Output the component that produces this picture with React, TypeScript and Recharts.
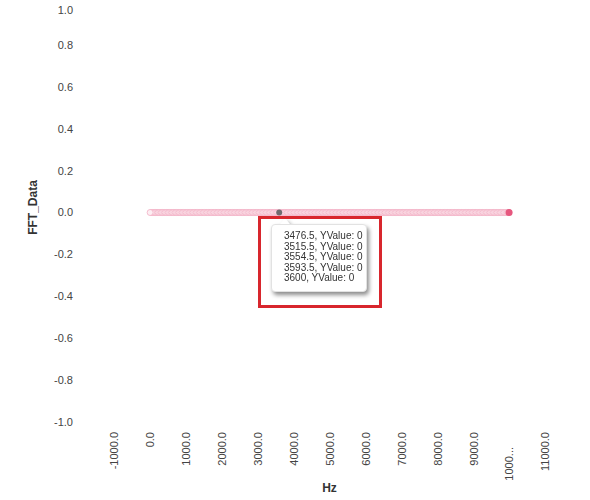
import { ScatterChart, Scatter, XAxis, YAxis } from "recharts";

// FFT bins (Hz); every bin reads 0 in the tooltip
const HZ = [
  5.5, 44.5, 83.5, 122.5, 161.5, 200.5, 239.5, 278.5, 317.5, 356.5,
  395.5, 434.5, 473.5, 512.5, 551.5, 590.5, 629.5, 668.5, 707.5, 746.5,
  785.5, 824.5, 863.5, 902.5, 941.5, 980.5, 1019.5, 1058.5, 1097.5, 1136.5,
  1175.5, 1214.5, 1253.5, 1292.5, 1331.5, 1370.5, 1409.5, 1448.5, 1487.5, 1526.5,
  1565.5, 1604.5, 1643.5, 1682.5, 1721.5, 1760.5, 1799.5, 1838.5, 1877.5, 1916.5,
  1955.5, 1994.5, 2033.5, 2072.5, 2111.5, 2150.5, 2189.5, 2228.5, 2267.5, 2306.5,
  2345.5, 2384.5, 2423.5, 2462.5, 2501.5, 2540.5, 2579.5, 2618.5, 2657.5, 2696.5,
  2735.5, 2774.5, 2813.5, 2852.5, 2891.5, 2930.5, 2969.5, 3008.5, 3047.5, 3086.5,
  3125.5, 3164.5, 3203.5, 3242.5, 3281.5, 3320.5, 3359.5, 3398.5, 3437.5, 3476.5,
  3515.5, 3554.5, 3593.5, 3600, 3632.5, 3671.5, 3710.5, 3749.5, 3788.5, 3827.5, 3866.5,
  3905.5, 3944.5, 3983.5, 4022.5, 4061.5, 4100.5, 4139.5, 4178.5, 4217.5, 4256.5,
  4295.5, 4334.5, 4373.5, 4412.5, 4451.5, 4490.5, 4529.5, 4568.5, 4607.5, 4646.5,
  4685.5, 4724.5, 4763.5, 4802.5, 4841.5, 4880.5, 4919.5, 4958.5, 4997.5, 5036.5,
  5075.5, 5114.5, 5153.5, 5192.5, 5231.5, 5270.5, 5309.5, 5348.5, 5387.5, 5426.5,
  5465.5, 5504.5, 5543.5, 5582.5, 5621.5, 5660.5, 5699.5, 5738.5, 5777.5, 5816.5,
  5855.5, 5894.5, 5933.5, 5972.5, 6011.5, 6050.5, 6089.5, 6128.5, 6167.5, 6206.5,
  6245.5, 6284.5, 6323.5, 6362.5, 6401.5, 6440.5, 6479.5, 6518.5, 6557.5, 6596.5,
  6635.5, 6674.5, 6713.5, 6752.5, 6791.5, 6830.5, 6869.5, 6908.5, 6947.5, 6986.5,
  7025.5, 7064.5, 7103.5, 7142.5, 7181.5, 7220.5, 7259.5, 7298.5, 7337.5, 7376.5,
  7415.5, 7454.5, 7493.5, 7532.5, 7571.5, 7610.5, 7649.5, 7688.5, 7727.5, 7766.5,
  7805.5, 7844.5, 7883.5, 7922.5, 7961.5, 8000.5, 8039.5, 8078.5, 8117.5, 8156.5,
  8195.5, 8234.5, 8273.5, 8312.5, 8351.5, 8390.5, 8429.5, 8468.5, 8507.5, 8546.5,
  8585.5, 8624.5, 8663.5, 8702.5, 8741.5, 8780.5, 8819.5, 8858.5, 8897.5, 8936.5,
  8975.5, 9014.5, 9053.5, 9092.5, 9131.5, 9170.5, 9209.5, 9248.5, 9287.5, 9326.5,
  9365.5, 9404.5, 9443.5, 9482.5, 9521.5, 9560.5, 9599.5, 9638.5, 9677.5, 9716.5,
  9755.5, 9794.5, 9833.5, 9872.5, 9911.5, 9950.5, 9989.5, 10000,
];
const FFT_VALUE = 0;
const HOVER_HZ = 3600;
const LAST_HZ = 10000;

const X_TICKS = [-1000, 0, 1000, 2000, 3000, 4000, 5000, 6000, 7000, 8000, 9000, 10000, 11000];
const CUT_TICK = 10000; // drawn as "1000..." in the reference
const Y_TICKS = [-1, -0.8, -0.6, -0.4, -0.2, 0, 0.2, 0.4, 0.6, 0.8, 1];
const TOOLTIP_HZ = [3476.5, 3515.5, 3554.5, 3593.5, 3600];

const FONT = "'Liberation Sans', Arial, sans-serif";

const points = HZ.map((hz) => ({ hz, fft: FFT_VALUE }));
// drawn high-to-low so the right edge of each ring stays visible
const bins = points.filter((p) => p.hz !== LAST_HZ && p.hz !== HOVER_HZ).reverse();
const lastPoint = points.filter((p) => p.hz === LAST_HZ);
const hoverPoint = points.filter((p) => p.hz === HOVER_HZ);

// eslint-disable-next-line @typescript-eslint/no-explicit-any
function HzTick({ x, y, payload }: any) {
  const v = payload.value as number;
  const cut = v === CUT_TICK;
  const label = cut ? "1000..." : v.toFixed(1);
  const ty = cut ? y + 15 : y;
  return (
    <text
      x={x}
      y={ty}
      dy="0.4em"
      transform={`rotate(-90 ${x} ${ty})`}
      textAnchor="end"
      fontSize={11}
      fontFamily={FONT}
      fill="#444"
    >
      {label}
    </text>
  );
}

// eslint-disable-next-line @typescript-eslint/no-explicit-any
function FftTick({ x, y, payload }: any) {
  // top label is kept inside the chart, like the reference
  const ty = Math.max(y, 10);
  return (
    <text x={x} y={ty} dy="0.355em" textAnchor="end" fontSize={11} fontFamily={FONT} fill="#444">
      {(payload.value as number).toFixed(1)}
    </text>
  );
}

// eslint-disable-next-line @typescript-eslint/no-explicit-any
function YTitle({ viewBox }: any) {
  const cx = viewBox.x + 33;
  const cy = viewBox.y + viewBox.height / 2 - 5;
  return (
    <text
      transform={`translate(${cx},${cy}) rotate(-90)`}
      textAnchor="middle"
      dy="0.35em"
      fontSize={12}
      fontWeight="bold"
      fontFamily={FONT}
      fill="#333"
    >
      FFT_Data
    </text>
  );
}

// eslint-disable-next-line @typescript-eslint/no-explicit-any
const binDot = (p: any) => (
  <circle cx={p.cx} cy={p.cy} r={3} fill="#fdeef3" stroke="#f0a6bd" strokeWidth={0.7} />
);
// eslint-disable-next-line @typescript-eslint/no-explicit-any
const lastDot = (p: any) => <circle cx={p.cx} cy={p.cy} r={3.5} fill="#e6577e" />;
// eslint-disable-next-line @typescript-eslint/no-explicit-any
const hoverDot = (p: any) => <circle cx={p.cx} cy={p.cy} r={3} fill="#6f6a6f" />;

export default function App() {
  return (
    <div style={{ position: "absolute", left: 0, top: 0, width: 590, height: 500, background: "#fff", fontFamily: FONT }}>
      <ScatterChart width={590} height={500} margin={{ top: 3, right: 45, bottom: 0, left: 0 }}>
        <XAxis
          type="number"
          dataKey="hz"
          domain={[-1000, 11000]}
          ticks={X_TICKS}
          interval={0}
          tick={<HzTick />}
          tickLine={false}
          axisLine={false}
          tickSize={0}
          tickMargin={10}
          height={78}
          label={{ value: "Hz", position: "insideBottom", offset: 8, fontSize: 12, fontWeight: "bold", fill: "#333", fontFamily: FONT }}
        />
        <YAxis
          type="number"
          dataKey="fft"
          domain={[-1, 1]}
          ticks={Y_TICKS}
          interval={0}
          tick={<FftTick />}
          tickLine={false}
          axisLine={false}
          tickSize={0}
          tickMargin={41}
          width={114}
          label={<YTitle />}
        />
        <Scatter data={bins} shape={binDot} isAnimationActive={false} />
        <Scatter data={lastPoint} shape={lastDot} isAnimationActive={false} />
        <Scatter data={hoverPoint} shape={hoverDot} isAnimationActive={false} />
      </ScatterChart>

      {/* hover tooltip */}
      <div style={{ position: "absolute", left: 271, top: 218, filter: "drop-shadow(2px 3px 2px rgba(0,0,0,0.45))" }}>
        <div
          style={{
            position: "absolute",
            left: 9,
            top: 0,
            width: 0,
            height: 0,
            borderLeft: "5px solid transparent",
            borderRight: "5px solid transparent",
            borderBottom: "6px solid #fff",
          }}
        />
        <div
          style={{
            marginTop: 6,
            width: 96,
            height: 68,
            boxSizing: "border-box",
            background: "#fff",
            border: "1px solid #e2e2e2",
            borderRadius: 4,
            padding: "6px 0 0 12px",
            fontSize: 10,
            lineHeight: "10.5px",
            color: "#333",
            whiteSpace: "nowrap",
          }}
        >
          {TOOLTIP_HZ.map((hz) => (
            <div key={hz}>{`${hz}, YValue: ${FFT_VALUE}`}</div>
          ))}
        </div>
      </div>

      {/* red highlight box */}
      <div
        style={{
          position: "absolute",
          left: 258,
          top: 216,
          width: 124,
          height: 92,
          boxSizing: "border-box",
          border: "3px solid #d8262d",
        }}
      />
    </div>
  );
}
